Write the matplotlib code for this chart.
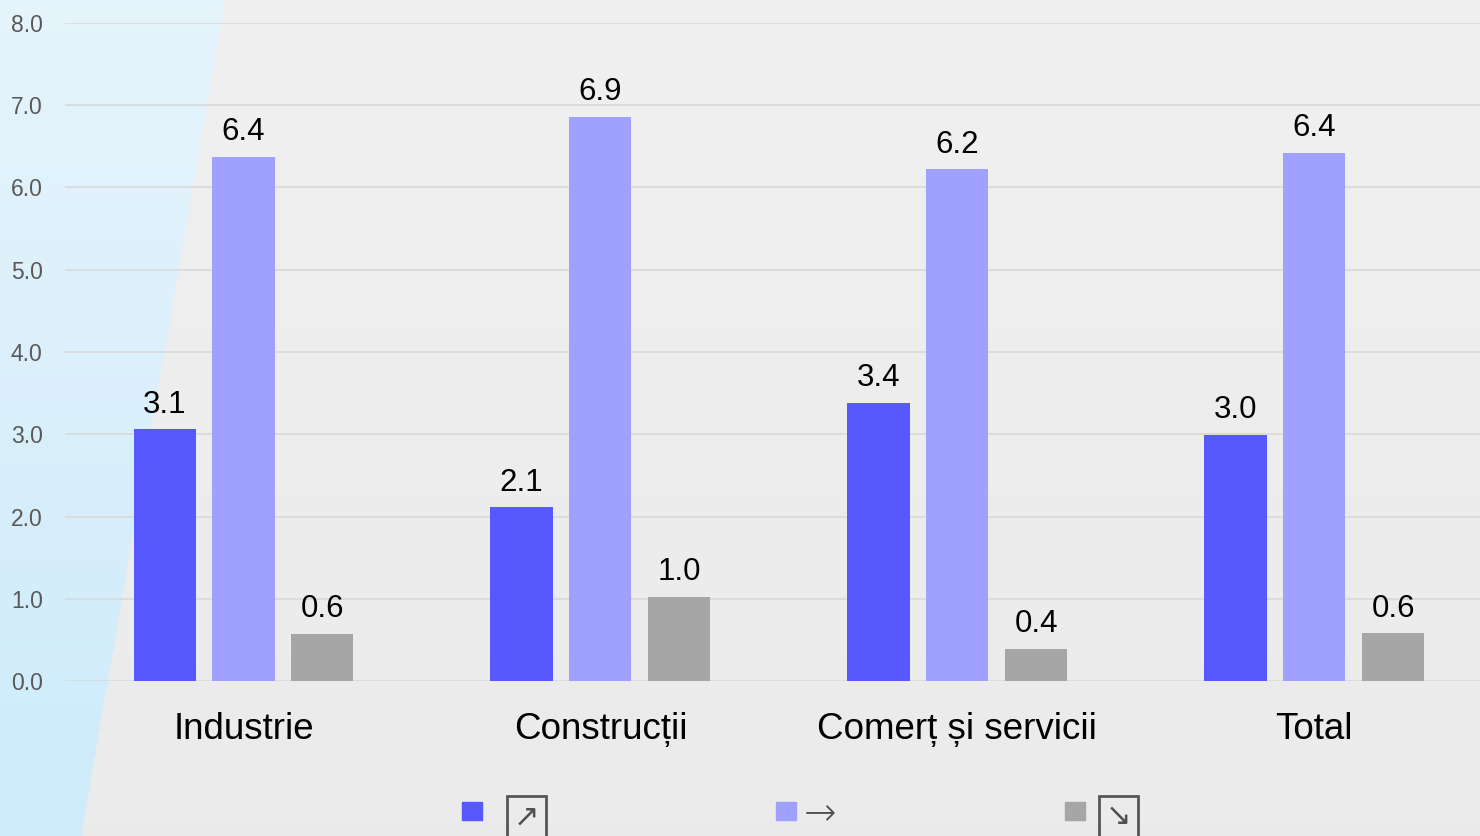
import numpy as np
import matplotlib.pyplot as plt
from matplotlib.patches import Rectangle

categories = ['Industrie', 'Construcții', 'Comerț și servicii', 'Total']
series_names = ['↗', '→', '↘']
up = [3.06, 2.11, 3.38, 2.99]
same = [6.37, 6.86, 6.22, 6.42]
down = [0.57, 1.02, 0.39, 0.58]
yticks = [0, 1, 2, 3, 4, 5, 6, 7, 8]

colors = ['#5858FF', '#A0A0FF', '#A6A6A6']

plt.rcParams['font.family'] = ['Liberation Sans', 'DejaVu Sans']

W, H = 1480, 836
fig = plt.figure(figsize=(W / 100, H / 100), dpi=100)

# background: light blue wedge on the left, light grey on the right
bg = fig.add_axes([0, 0, 1, 1])
h, w = 418, 740
yy, xx = np.mgrid[0:h, 0:w]
edge = 112 - (yy / h) * 72
t = (yy / h)[..., None]
blue = np.array([230, 244, 252]) / 255 * (1 - t) + np.array([205, 235, 250]) / 255 * t
grey = np.array([240, 240, 240]) / 255 - 0.02 * t
img = np.where((xx < edge)[..., None], blue, grey)
bg.imshow(img, aspect='auto', interpolation='bilinear')
bg.axis('off')

ax = fig.add_axes([0.0439, 0.1854, 0.9561, 0.7871])
ax.set_facecolor('none')

x = np.arange(len(categories))
width = 0.174
offset = 0.221
for i, vals in enumerate([up, same, down]):
    bars = ax.bar(x + (i - 1) * offset, vals, width, color=colors[i], zorder=3)
    ax.bar_label(bars, labels=[f'{v:.1f}' for v in vals], padding=7, fontsize=22.5, color='black')

ax.set_ylim(0, 8)
ax.set_xlim(-0.5, 3.464)
ax.set_yticks(yticks)
ax.set_yticklabels([f'{v:.1f}' for v in yticks], fontsize=16.5, color='#595959')
ax.set_xticks(x)
ax.set_xticklabels(categories, fontsize=26.5, color='black')
ax.tick_params(axis='y', length=0, pad=16)
ax.tick_params(axis='x', length=0, pad=22)
ax.yaxis.grid(True, color='#D9D9D9', linewidth=1.2, zorder=0)
for s in ax.spines.values():
    s.set_visible(False)

# legend drawn by hand along the bottom edge
leg_x = [462, 776, 1065]
txt_x = [514, 804, 1106]
leg_y = 811
for i, name in enumerate(series_names):
    fig.add_artist(Rectangle(((leg_x[i]) / W, (H - leg_y - 9) / H), 20 / W, 18 / H,
                             transform=fig.transFigure, color=colors[i]))
    if name == '→':
        fig.text(txt_x[i] / W, (H - leg_y - 3) / H, name, fontsize=28,
                 color='#505050', va='center', ha='left', family='DejaVu Sans',
                 fontweight='light')
    else:
        fig.text(txt_x[i] / W, (H - leg_y - 6) / H, name, fontsize=22,
                 color='#505050', va='center', ha='left', family='DejaVu Sans',
                 bbox=dict(boxstyle='square,pad=0.22', fc='none', ec='#555555', lw=2))

fig.savefig('out.png', dpi=100)
